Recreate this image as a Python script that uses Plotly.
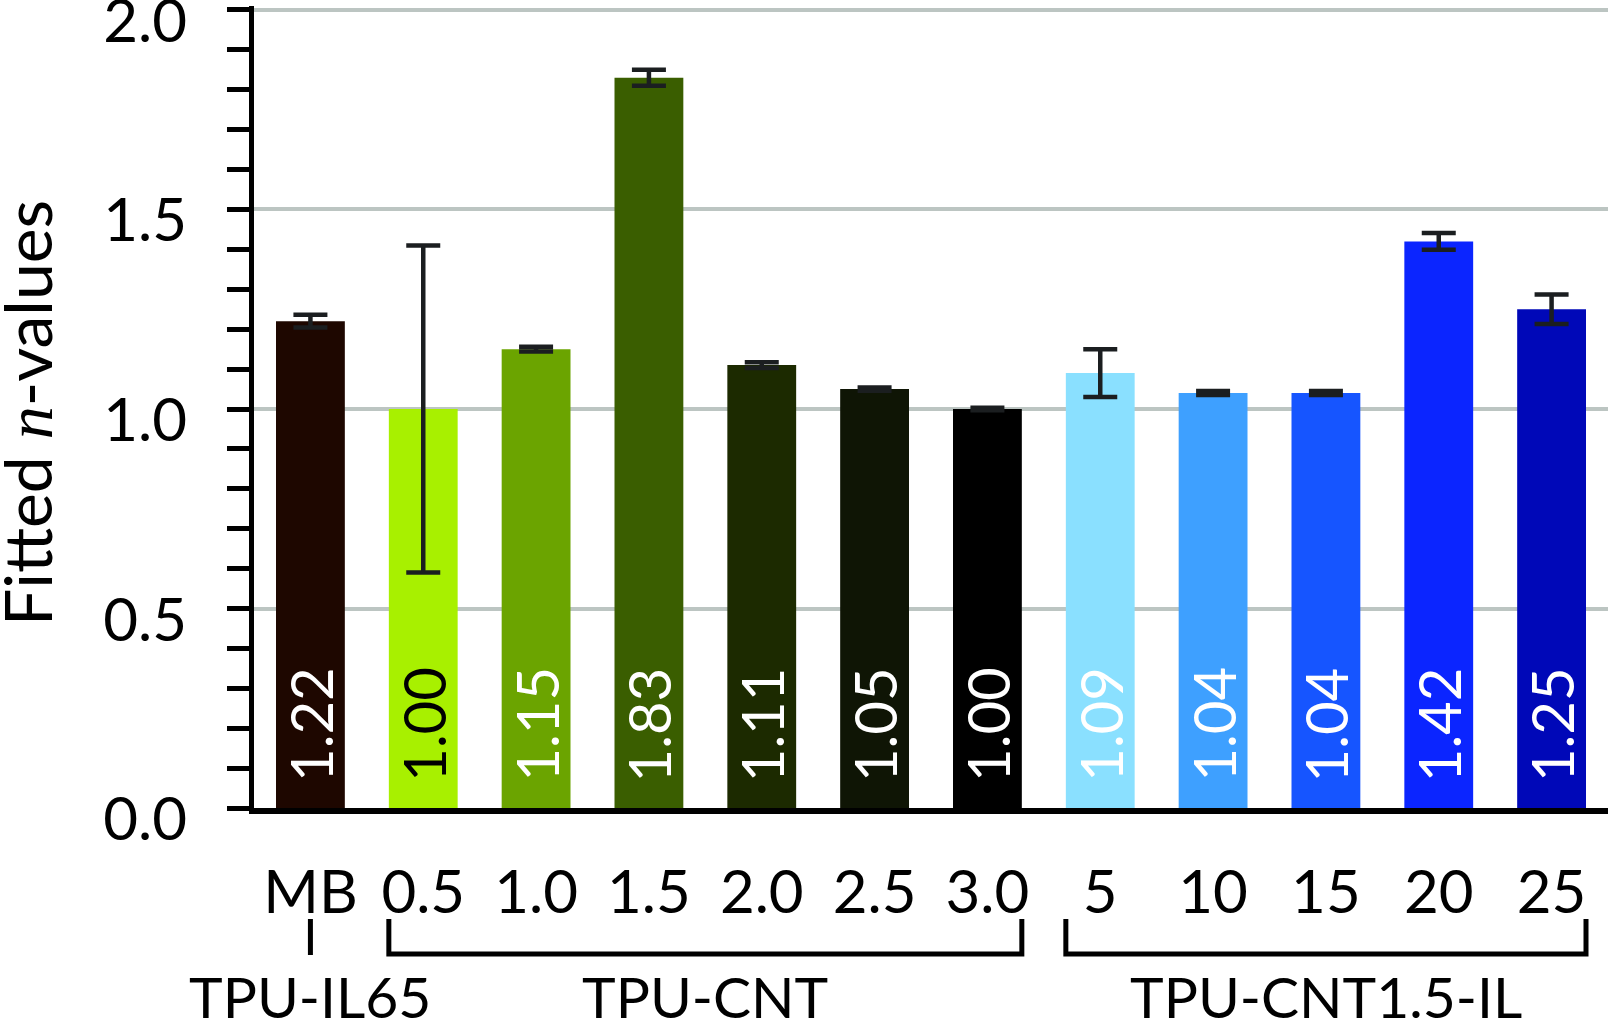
import plotly.graph_objects as go

# ---- data ----
categories = ["MB", "0.5", "1.0", "1.5", "2.0", "2.5", "3.0", "5", "10", "15", "20", "25"]
n_values = [1.22, 1.00, 1.15, 1.83, 1.11, 1.05, 1.00, 1.09, 1.04, 1.04, 1.42, 1.25]
n_errors = [0.016, 0.41, 0.006, 0.02, 0.007, 0.004, 0.003, 0.06, 0.005, 0.005, 0.021, 0.037]
bar_colors = ["#1e0700", "#a8f000", "#6ba400", "#3a5e00", "#1c2a00", "#0f1505",
              "#000000", "#8ae0ff", "#3ea0ff", "#1655ff", "#0b25ff", "#0008b8"]
label_colors = ["white", "black", "white", "white", "white", "white",
                "white", "white", "white", "white", "white", "white"]
group_names = ["TPU-IL65", "TPU-CNT", "TPU-CNT1.5-IL"]
group_first = [0, 1, 7]
group_last = [0, 6, 11]
y_ticks = [0, 0.5, 1.0, 1.5, 2.0]

FONT = "Lato"
FS = 60
positions = list(range(len(categories)))

fig = go.Figure()
fig.add_trace(go.Bar(
    x=positions, y=n_values,
    marker=dict(color=bar_colors, line=dict(width=0)),
    error_y=dict(type="data", array=n_errors, visible=True,
                 color="#1b1e20", thickness=4.5, width=17),
    showlegend=False,
))

# value labels inside the bars (rotated)
for i, v in zip(positions, n_values):
    fig.add_annotation(x=i, y=0, xref="x", yref="y", text=f"{v:.2f}",
                       textangle=-90, showarrow=False, xanchor="center",
                       yanchor="bottom", yshift=24,
                       font=dict(family=FONT, size=58, color=label_colors[i]))

# geometry (pixels)
Y_MAX = 2.01
BOT = 808.0
PX_PER_UNIT = 399.0
TOP = BOT - Y_MAX * PX_PER_UNIT
H = BOT - TOP
def py(px):
    return (BOT - px) / H

half = 0.305
B_TOP, B_BOT = 919, 954
for name, a, b in zip(group_names, group_first, group_last):
    if a == b:
        fig.add_shape(type="line", xref="x", yref="paper", x0=a, x1=a,
                      y0=py(B_TOP), y1=py(B_BOT + 1), line=dict(color="black", width=5))
    else:
        fig.add_shape(type="path", xref="x", yref="paper",
                      path=f"M {a-half},{py(B_TOP)} L {a-half},{py(B_BOT)} L {b+half},{py(B_BOT)} L {b+half},{py(B_TOP)}",
                      line=dict(color="black", width=5))
    fig.add_annotation(x=(a + b) / 2, y=py(996), xref="x", yref="paper",
                       text=name, showarrow=False, xanchor="center", yanchor="middle",
                       font=dict(family=FONT, size=57, color="black"))

# y-axis title
fig.add_annotation(x=(27 - 254) / (1608 - 254), y=py(413), xref="paper", yref="paper",
                   text='Fitted <span style="font-family:Liberation Serif"><i>n</i></span>-values',
                   textangle=-90, showarrow=False, xanchor="center", yanchor="middle",
                   font=dict(family=FONT, size=66, color="black"))

fig.update_layout(
    width=1608, height=1021,
    margin=dict(l=254, r=0, t=TOP, b=1021 - BOT, autoexpand=False),
    paper_bgcolor="white", plot_bgcolor="white",
    bargap=0.39,
    font=dict(family=FONT, size=FS, color="black"),
)
fig.update_xaxes(
    range=[-0.5, 11.5], tickvals=positions, ticktext=categories,
    showline=True, linewidth=6, linecolor="black", ticks="",
    showgrid=False, zeroline=False, ticklabelstandoff=27,
    tickfont=dict(family=FONT, size=FS, color="black"),
)
fig.update_yaxes(
    range=[0, Y_MAX], tickvals=y_ticks, tickformat=".1f",
    showline=True, linewidth=5, linecolor="black",
    ticks="outside", ticklen=22, tickwidth=5, tickcolor="black",
    minor=dict(tickvals=[k / 10 for k in range(21)], ticks="outside", ticklen=22, tickwidth=5,
               tickcolor="black", showgrid=False),
    showgrid=True, gridcolor="#bcc5c2", gridwidth=4, zeroline=False,
    ticklabelstandoff=28, ticklabelshift=11, ticklabeloverflow="allow",
    tickfont=dict(family=FONT, size=FS, color="black"),
)

fig.write_html("out.html", config={"displayModeBar": False},
               post_script="document.body.style.margin='0';")
